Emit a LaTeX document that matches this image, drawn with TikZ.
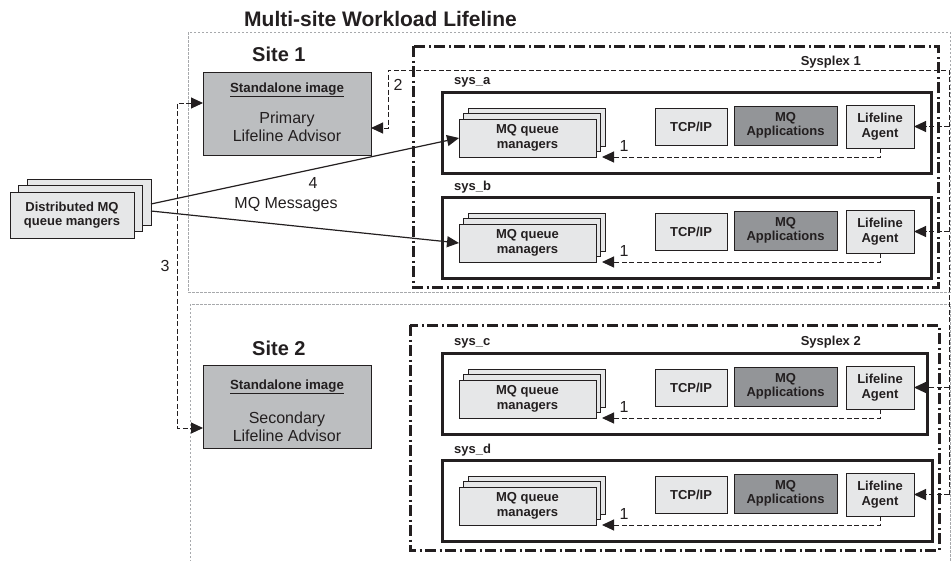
\documentclass[tikz,border=0pt]{standalone}
\usepackage{fontspec}
\setmainfont{Liberation Sans}
\usetikzlibrary{arrows.meta,calc}
\definecolor{lgray}{HTML}{E6E7E8}
\definecolor{mgray}{HTML}{BCBEC0}
\definecolor{dgray}{HTML}{939598}
\definecolor{ink}{HTML}{231F20}
\definecolor{sitegray}{HTML}{A7A9AC}
\tikzset{
  tip/.tip={Triangle[length=12pt,width=11pt]},
  box/.style={draw=ink, line width=1pt, inner sep=0pt, outer sep=0pt, anchor=north west, align=center, text=ink,
    font=\fontsize{13}{14.5}\selectfont\bfseries},
  lbox/.style={box, fill=lgray},
  abox/.style={box, fill=dgray},
  advbox/.style={box, fill=mgray},
  sysbox/.style={draw=ink, line width=3pt, inner sep=0pt, outer sep=0pt, anchor=north west},
  plexline/.style={draw=ink, line width=3pt, dash pattern=on 11pt off 3.5pt on 2pt off 3.5pt},
  siteline/.style={draw=sitegray, line width=0.8pt, dash pattern=on 2.5pt off 1.5pt},
  darr/.style={draw=ink, line width=1pt, dash pattern=on 5pt off 2.5pt, -tip},
  sarr/.style={draw=ink, line width=1.2pt, -tip},
  lbl/.style={inner sep=0pt, text=ink, font=\fontsize{13}{15}\selectfont\bfseries},
  num/.style={inner sep=0pt, text=ink, font=\fontsize{16}{18}\selectfont},
  big/.style={inner sep=0pt, text=ink, font=\fontsize{20}{24}\selectfont\bfseries},
  advtxt/.style={inner sep=0pt, text=ink, align=center, font=\fontsize{16}{18}\selectfont},
  advhead/.style={inner sep=0pt, text=ink, font=\fontsize{13.3}{16}\selectfont\bfseries},
}
\newcommand\sysrow[4]{%
  \node[sysbox, minimum width=#4, minimum height=81] (#1box) at (442,#2) {};
  \node[lbl, anchor=west] (#1lab) at (454,#2-9.5) {#3};
  \node[lbox, minimum width=137, minimum height=38] (#1mqc) at (468,#2+16) {};
  \node[lbox, minimum width=137, minimum height=38] (#1mqb) at (463.5,#2+21.5) {};
  \node[lbox, minimum width=137, minimum height=38] (#1mq) at (459,#2+27) {MQ queue\\managers};
  \node[lbox, minimum width=72, minimum height=37] (#1tcp) at (655,#2+16) {TCP/IP};
  \node[abox, minimum width=103, minimum height=39] (#1app) at (734,#2+14) {MQ\\Applications};
  \node[lbox, minimum width=68, minimum height=43] (#1ag) at (846,#2+13) {Lifeline\\Agent};
  \draw[darr] (#1ag.south) |- ([xshift=6pt]#1mq.south east);
  \node[num] (#1one) at (624,#2+54) {1};
}
\begin{document}
\begin{tikzpicture}[x=1pt,y=-1pt]
\useasboundingbox (0,0) rectangle (951,560);
% sites
\draw[siteline] (188,32) rectangle (950,292);
\draw[siteline] (190,562) -- (190,304) -- (950,304) -- (950,562);
% sysplexes
\draw[plexline] (413,46) rectangle (938,287);
\draw[plexline] (410,325) rectangle (939,550);
% title and labels
\node[inner sep=0pt, anchor=west, text=ink, font=\fontsize{21}{25}\selectfont\bfseries] (title) at (244,19) {Multi-site Workload Lifeline};
\node[big, anchor=west] (site1) at (252,54) {Site 1};
\node[big, anchor=west] (site2) at (252,348) {Site 2};
\node[lbl, anchor=east] (plex1) at (861,62) {Sysplex 1};
\node[lbl, anchor=east] (plex2) at (861,342) {Sysplex 2};
% advisors
\node[advbox, minimum width=168, minimum height=83] (pa) at (203,72) {};
\node[advhead] (pahead) at (287,90) {\underline{Standalone image}};
\node[advtxt] (patext) at (287,127) {Primary\\Lifeline Advisor};
\node[advbox, minimum width=168, minimum height=83] (sa) at (203,365) {};
\node[advhead] (sahead) at (287,387) {\underline{Standalone image}};
\node[advtxt] (satext) at (287,427) {Secondary\\Lifeline Advisor};
% distributed MQ
\node[lbox, minimum width=124, minimum height=46] (dc) at (27,179) {};
\node[lbox, minimum width=124, minimum height=46] (dbm) at (18.5,185.5) {};
\node[lbox, minimum width=124, minimum height=46] (dist) at (10,192) {Distributed MQ\\queue mangers};
% systems
\sysrow{sa-}{92}{sys\_a}{489}
\sysrow{sb-}{197}{sys\_b}{489}
\sysrow{sc-}{353}{sys\_c}{485}
\sysrow{sd-}{460}{sys\_d}{490}
% MQ messages
\draw[sarr] ([yshift=-2pt]dc.east) -- (sa-mq.west);
\draw[sarr] ([yshift=-9pt]dc.east) -- (sb-mq.west);
\node[num] (four) at (313,183) {4};
\node[num] (mqmsg) at (286,205) {MQ Messages};
% arrow 2
\coordinate (railtop) at (949,70);
\coordinate (bend) at (388,128);
\coordinate (railbot) at (sd-ag.east -| railtop);
\draw[darr] (railbot) -- (railtop) -| (bend) -- (bend -| pa.east);
\draw[darr] (sa-ag.east -| railtop) -- (sa-ag.east);
\draw[darr] (sb-ag.east -| railtop) -- (sb-ag.east);
\draw[darr] (sc-ag.east -| railtop) -- (sc-ag.east);
\draw[darr] (railbot) -- (sd-ag.east);
\node[num] (two) at (398,85) {2};
% arrow 3
\coordinate (left3) at (177,103);
\draw[darr, tip-tip] (left3 -| pa.west) -- (left3) |- ([yshift=-21.5pt]sa.west);
\node[num] (three) at (165,266) {3};
\end{tikzpicture}
\end{document}
